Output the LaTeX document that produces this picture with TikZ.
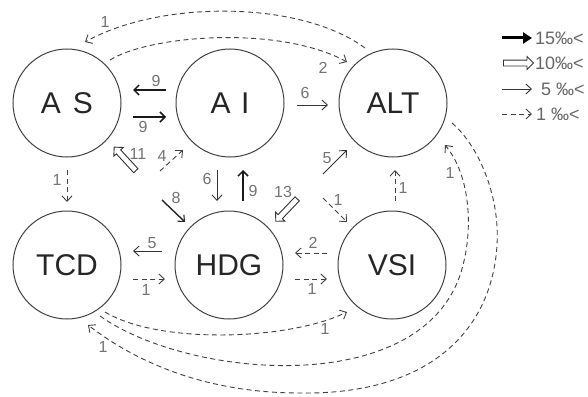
\documentclass[tikz,border=0pt]{standalone}
\usepackage{fontspec}
\setmainfont{Liberation Sans}
\usetikzlibrary{arrows.meta,shapes.arrows}
\begin{document}
\begin{tikzpicture}[x=1pt,y=-1pt,
  state/.style={circle, draw=black!75, line width=1pt, minimum size=108pt, inner sep=0pt, text=black!85, font=\fontsize{30}{30}\selectfont},
  lbl/.style={text=black!55, font=\fontsize{16}{16}\selectfont, inner sep=0pt},
  legtext/.style={text=black!60, font=\fontsize{18}{18}\selectfont, inner sep=0pt, anchor=west},
  strong/.style={draw=black!90, line width=2.2pt, -{Straight Barb[length=5pt,width=10pt,line width=1.5pt]}},
  medium/.style={draw=black!85, line width=1.4pt, -{Straight Barb[length=5pt,width=9pt,line width=1.1pt]}},
  thinarr/.style={draw=black!80, line width=0.9pt, -{Straight Barb[length=5.5pt,width=10pt]}},
  weak/.style={draw=black!75, line width=0.9pt, dash pattern=on 5pt off 3.5pt, -{Straight Barb[length=5.5pt,width=10pt]}},
  hollow/.style={single arrow, draw=black!80, line width=0.9pt, inner sep=2.5pt, single arrow head extend=3.5pt, minimum height=#1}
]
\useasboundingbox (0,0) rectangle (588,396);

% states
\node[state] (AS)  at (67,103)  {A\hspace{0.4em}S};
\node[state] (AI)  at (230,103) {A\hspace{0.35em}I};
\node[state] (ALT) at (393,103) {ALT};
\node[state] (TCD) at (67,265)  {TCD};
\node[state] (HDG) at (229,265) {HDG};
\node[state] (VSI) at (392,265) {VSI};

% short arrow end points
\coordinate (e1a) at (166,90);  \coordinate (e1b) at (133,90);
\coordinate (e2a) at (133,117); \coordinate (e2b) at (166,117);
\coordinate (e3a) at (297,105); \coordinate (e3b) at (328,105);
\coordinate (e5a) at (160,171); \coordinate (e5b) at (183,150);
\coordinate (e6a) at (67,170);  \coordinate (e6b) at (67,202);
\coordinate (e7a) at (162,200); \coordinate (e7b) at (185,222);
\coordinate (e8a) at (217,170); \coordinate (e8b) at (217,201);
\coordinate (e9a) at (243,201); \coordinate (e9b) at (243,170);
\coordinate (e11a) at (323,174); \coordinate (e11b) at (347,150);
\coordinate (e12a) at (323,198); \coordinate (e12b) at (347,222);
\coordinate (e13a) at (395,201); \coordinate (e13b) at (395,170);
\coordinate (e14a) at (162,251); \coordinate (e14b) at (133,251);
\coordinate (e15a) at (133,279); \coordinate (e15b) at (165,279);
\coordinate (e16a) at (327,253); \coordinate (e16b) at (295,253);
\coordinate (e17a) at (295,279); \coordinate (e17b) at (327,279);

\draw[strong] (e1a) -- (e1b);   \node[lbl] (l1) at (156,81) {9};
\draw[strong] (e2a) -- (e2b);   \node[lbl] (l2) at (143,127) {9};
\draw[thinarr] (e3a) -- (e3b);  \node[lbl] (l3) at (305,93) {6};
\node[hollow=32pt, rotate=132.5] (e4) at (126,160) {}; \node[lbl] (l4) at (138,154) {11};
\draw[weak] (e5a) -- (e5b);     \node[lbl] (l5) at (162,156) {4};
\draw[weak] (e6a) -- (e6b);     \node[lbl] (l6) at (57,180) {1};
\draw[medium] (e7a) -- (e7b);   \node[lbl] (l7) at (176,198) {8};
\draw[thinarr] (e8a) -- (e8b);  \node[lbl] (l8) at (207,179) {6};
\draw[strong] (e9a) -- (e9b);   \node[lbl] (l9) at (253,191) {9};
\node[hollow=31pt, rotate=-133.7] (e10) at (287.5,209) {}; \node[lbl] (l10) at (283,192) {13};
\draw[thinarr] (e11a) -- (e11b); \node[lbl] (l11) at (327,158) {5};
\draw[weak] (e12a) -- (e12b);   \node[lbl] (l12) at (338,200) {1};
\draw[weak] (e13a) -- (e13b);   \node[lbl] (l13) at (403,188) {1};
\draw[thinarr] (e14a) -- (e14b); \node[lbl] (l14) at (152,243) {5};
\draw[weak] (e15a) -- (e15b);   \node[lbl] (l15) at (146,290) {1};
\draw[weak] (e16a) -- (e16b);   \node[lbl] (l16) at (313,243) {2};
\draw[weak] (e17a) -- (e17b);   \node[lbl] (l17) at (312,289) {1};

% long dashed curves
\coordinate (c1a) at (365,48);  \coordinate (c1b) at (85,42);
\coordinate (c2a) at (110,60);  \coordinate (c2b) at (347,62);
\coordinate (c3a) at (105,312); \coordinate (c3b) at (347,312);
\coordinate (c4a) at (100,316); \coordinate (c4m) at (463,265); \coordinate (c4b) at (445,145);
\coordinate (c5a) at (452,123); \coordinate (c5m) at (497,245); \coordinate (c5n) at (300,393); \coordinate (c5b) at (88,325);

\draw[weak] (c1a) .. controls (300,0) and (160,0) .. (c1b);   \node[lbl] (lc1) at (105,22) {1};
\draw[weak] (c2a) .. controls (150,35) and (280,25) .. (c2b); \node[lbl] (lc2) at (323,68) {2};
\draw[weak] (c3a) .. controls (160,345) and (290,340) .. (c3b); \node[lbl] (lc3) at (325,329) {1};
\draw[weak] (c4a) .. controls (190,380) and (430,400) .. (c4m) .. controls (473,227) and (470,175) .. (c4b);
\node[lbl] (lc4) at (450,173) {1};
\draw[weak] (c5a) .. controls (478,145) and (500,195) .. (c5m) .. controls (492,330) and (430,395) .. (c5n) .. controls (210,393) and (140,365) .. (c5b);
\node[lbl] (lc5) at (103,347) {1};

% legend
\coordinate (g1a) at (502,38); \coordinate (g1b) at (532,38);
\coordinate (g3a) at (502,89); \coordinate (g3b) at (532,89);
\coordinate (g4a) at (502,114); \coordinate (g4b) at (532,114);
\draw[draw=black, line width=3pt, -{Triangle[length=9pt,width=11pt]}] (g1a) -- (g1b);
\node[hollow=30pt] (g2) at (517,63) {};
\draw[thinarr] (g3a) -- (g3b);
\draw[weak] (g4a) -- (g4b);
\node[legtext] (t1) at (535,38) {15‰<};
\node[legtext] (t2) at (535,63) {10‰<};
\node[legtext] (t3) at (541,89) {5 ‰<};
\node[legtext] (t4) at (536,114) {1 ‰<};
\end{tikzpicture}
\end{document}
